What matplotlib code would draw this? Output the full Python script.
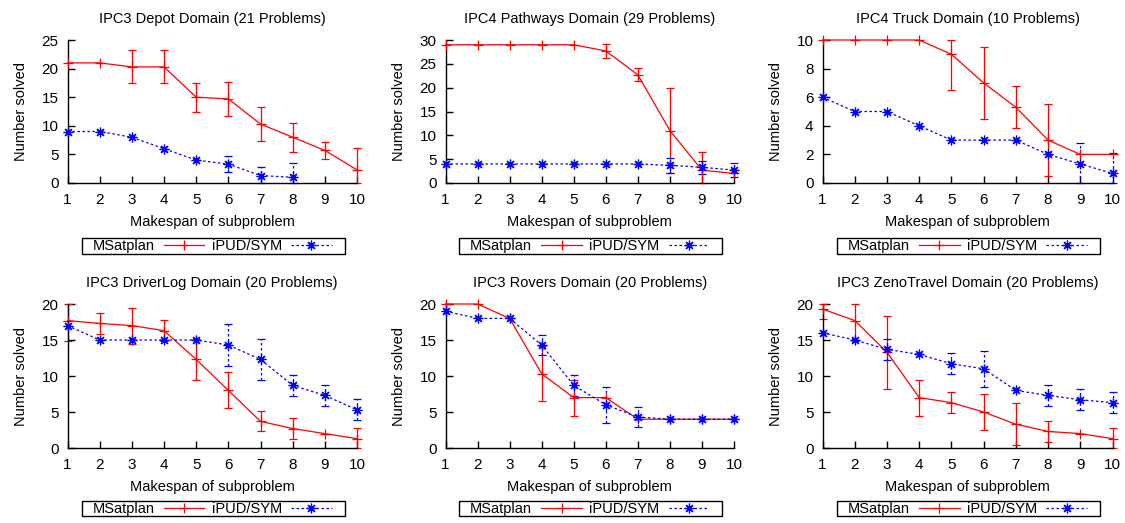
#!/usr/bin/env python3
# -*- coding: utf-8 -*-

"""Number of problems solved per subproblem makespan, six domains."""

import matplotlib
matplotlib.use("Agg")
import matplotlib.pyplot as plt
from matplotlib.lines import Line2D
from matplotlib.patches import Rectangle
import numpy as np

plt.rcParams["font.family"] = ["Liberation Sans", "DejaVu Sans"]

makespan = [1, 2, 3, 4, 5, 6, 7, 8, 9, 10]

titles = [
    "IPC3 Depot Domain (21 Problems)",
    "IPC4 Pathways Domain (29 Problems)",
    "IPC4 Truck Domain (10 Problems)",
    "IPC3 DriverLog Domain (20 Problems)",
    "IPC3 Rovers Domain (20 Problems)",
    "IPC3 ZenoTravel Domain (20 Problems)",
]
y_max = [25, 30, 10, 20, 20, 20]
y_step = [5, 5, 2, 5, 5, 5]

# MSatplan mean and error half-width
msat_depot = [21, 21, 20.3, 20.3, 15, 14.7, 10.3, 8, 5.7, 2.3]
msat_depot_err = [0, 0, 2.9, 2.9, 2.5, 2.9, 2.9, 2.5, 1.45, 3.8]
msat_pathways = [29, 29, 29, 29, 29, 27.7, 22.7, 11, 2.7, 2]
msat_pathways_err = [0, 0, 0, 0, 0, 1.4, 1.4, 9, 3.7, 0]
msat_truck = [10, 10, 10, 10, 9, 7, 5.3, 3, 2, 2]
msat_truck_err = [0, 0, 0, 0, 2.5, 2.5, 1.45, 2.5, 0, 0]
msat_driverlog = [17.7, 17.3, 17, 16.3, 12.3, 8, 3.7, 2.7, 2, 1.3]
msat_driverlog_err = [2.9, 1.45, 2.5, 1.45, 2.8, 2.5, 1.4, 1.4, 0, 1.45]
msat_rovers = [20, 20, 18, 10.3, 7, 7, 4, 4, 4, 4]
msat_rovers_err = [0, 0, 0, 3.8, 2.5, 0, 0, 0, 0, 0]
msat_zeno = [19.3, 17.7, 13.3, 7, 6.3, 5, 3.3, 2.3, 2, 1.3]
msat_zeno_err = [1.45, 2.9, 5.1, 2.5, 1.45, 2.5, 2.9, 1.45, 0, 1.45]

# iPUD/SYM mean and error half-width
ipud_depot = [9, 9, 8, 6, 4, 3.3, 1.3, 1.0]
ipud_depot_err = [0, 0, 0, 0, 0, 1.4, 1.5, 2.5]
ipud_pathways = [4, 4, 4, 4, 4, 4, 4, 3.7, 3.3, 2.7]
ipud_pathways_err = [0, 0, 0, 0, 0, 0, 0, 1.5, 1.4, 1.4]
ipud_truck = [6, 5, 5, 4, 3, 3, 3, 2, 1.33, 0.67]
ipud_truck_err = [0, 0, 0, 0, 0, 0, 0, 0, 1.45, 1.45]
ipud_driverlog = [17, 15, 15, 15, 15, 14.3, 12.3, 8.7, 7.3, 5.3]
ipud_driverlog_err = [0, 0, 0, 0, 0, 2.9, 2.9, 1.45, 1.45, 1.45]
ipud_rovers = [19, 18, 18, 14.3, 8.7, 6, 4.3, 4, 4, 4]
ipud_rovers_err = [0, 0, 0, 1.45, 1.45, 2.5, 1.45, 0, 0, 0]
ipud_zeno = [16, 15, 13.7, 13, 11.7, 11, 8, 7.3, 6.7, 6.3]
ipud_zeno_err = [0, 0, 1.45, 0, 1.45, 2.5, 0, 1.45, 1.45, 1.45]

msat_all = [(msat_depot, msat_depot_err), (msat_pathways, msat_pathways_err),
            (msat_truck, msat_truck_err), (msat_driverlog, msat_driverlog_err),
            (msat_rovers, msat_rovers_err), (msat_zeno, msat_zeno_err)]
ipud_all = [(ipud_depot, ipud_depot_err), (ipud_pathways, ipud_pathways_err),
            (ipud_truck, ipud_truck_err), (ipud_driverlog, ipud_driverlog_err),
            (ipud_rovers, ipud_rovers_err), (ipud_zeno, ipud_zeno_err)]

RED = "#ff0000"
BLUE = "#0000ff"
ASTERISK = (8, 2, 0)
DOTS = (0, (2, 2))

W, H = 1125, 523
rows = [(40, 183), (304, 448)]
cols = [(67.5, 357), (445.5, 734), (822.5, 1112.5)]


def draw_series(ax, values, err, top, color, marker, dotted):
    """Line plus clipped error bars for one series."""
    x = np.array(makespan[:len(values)], dtype=float)
    y = np.array(values, dtype=float)
    e = np.array(err, dtype=float)
    ls = DOTS if dotted else "-"
    ax.plot(x, y, color=color, lw=0.9, ls=ls, marker=marker, ms=7,
            mew=0.9, clip_on=False, zorder=3)
    m = e > 0
    lo = np.minimum(e[m], y[m])
    hi = np.minimum(e[m], top - y[m])
    _, caps, bars = ax.errorbar(x[m], y[m], yerr=[lo, hi], fmt="none",
                                ecolor=color, elinewidth=0.9, capsize=3,
                                capthick=0.9, clip_on=False, zorder=2)
    if dotted:
        for b in bars:
            b.set_linestyle(DOTS)


def main():
    fig = plt.figure(figsize=(W / 100, H / 100), dpi=100)
    legends = []
    for i in range(6):
        top_px, bot_px = rows[i // 3]
        left_px, right_px = cols[i % 3]
        ax = fig.add_axes([left_px / W, 1 - bot_px / H,
                           (right_px - left_px) / W, (bot_px - top_px) / H])
        top = y_max[i]
        draw_series(ax, *msat_all[i], top, RED, "+", False)
        draw_series(ax, *ipud_all[i], top, BLUE, ASTERISK, True)
        ax.set_xlim(1, 10)
        ax.set_ylim(0, top)
        ax.set_xticks(makespan)
        ax.set_yticks(np.arange(0, top + 1, y_step[i]))
        for s in ["top", "right"]:
            ax.spines[s].set_visible(False)
        for s in ["left", "bottom"]:
            ax.spines[s].set_linewidth(1.0)
        ax.tick_params(direction="in", length=5, width=1.0, labelsize=11)
        ax.tick_params(axis="x", pad=7)
        ax.tick_params(axis="y", pad=6.5)
        ax.set_title(titles[i], fontsize=10.5, pad=12)
        ax.set_xlabel("Makespan of subproblem", fontsize=10.5, labelpad=6)
        ax.set_ylabel("Number solved", fontsize=10.5, labelpad=10)

        handles = [
            Line2D([], [], color=RED, lw=0.9, marker="+", ms=7, mew=0.9),
            Line2D([], [], color=BLUE, lw=0.9, ls=DOTS,
                   marker=ASTERISK, ms=7, mew=0.9),
        ]
        leg_y = -0.385 if i < 3 else -0.368
        leg = ax.legend(handles, ["MSatplan", "iPUD/SYM"], ncol=2,
                        loc="upper center", bbox_to_anchor=(0.5, leg_y),
                        markerfirst=False, fontsize=10.5, frameon=False,
                        borderpad=0.05, handlelength=2.8,
                        handletextpad=0.62, columnspacing=0.5,
                        borderaxespad=0)
        legends.append(leg)

    # gnuplot-style key box: wider than the entries, tight vertically
    fig.canvas.draw()
    renderer = fig.canvas.get_renderer()
    for leg in legends:
        bb = leg.get_window_extent(renderer)
        x0, y0, x1, y1 = bb.x0 - 10, bb.y0, bb.x1 + 12, bb.y1
        fig.add_artist(Rectangle((x0 / W, y0 / H), (x1 - x0) / W,
                                 (y1 - y0) / H, transform=fig.transFigure,
                                 fill=False, edgecolor="black", lw=1.0))
    fig.savefig("out.png", dpi=100)


if __name__ == "__main__":
    main()
